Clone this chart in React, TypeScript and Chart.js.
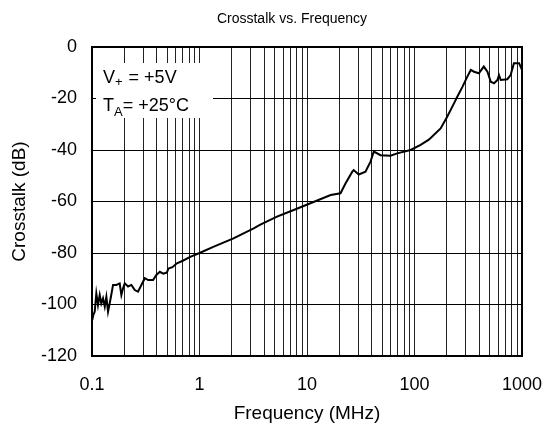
import React, { useEffect, useRef } from "react";
import { Chart, registerables } from "chart.js";

Chart.register(...registerables);

const TITLE = "Crosstalk vs. Frequency";
const X_TITLE = "Frequency (MHz)";
const Y_TITLE = "Crosstalk (dB)";

const frequencyMHz = [
  0.1006, 0.103, 0.106, 0.1097, 0.1137, 0.118, 0.122, 0.1266, 0.1314, 0.136,
  0.141, 0.146, 0.151, 0.157, 0.1685, 0.181, 0.1876, 0.1945, 0.2017, 0.2166,
  0.2325, 0.25, 0.268, 0.288, 0.31, 0.333, 0.37, 0.397, 0.4276, 0.46, 0.497,
  0.514, 0.56, 0.616, 0.7, 0.819, 1.0, 1.343, 2.07, 3.19, 3.68, 5.26, 7.52,
  10.76, 16.6, 20.5, 22.8, 26.3, 27.2, 30.3, 35, 39, 41.8, 48.3, 59.8, 69, 92,
  114, 136, 175, 202, 233, 250, 280, 310, 334, 358, 397, 441, 477, 512, 550,
  591, 611, 634, 730, 784, 841, 940, 1000,
];

const crosstalkDb = [
  -106, -104, -102.8, -95.7, -100.2, -96.3, -99.6, -97.6, -100.8, -97,
  -102.8, -99.6, -96.3, -92.4, -92.4, -91.8, -96.3, -93.7, -91.8, -93,
  -92.4, -94.4, -95, -92.4, -89.8, -90.5, -90.5, -88.5, -87.3, -88, -87.6,
  -86, -85.5, -84, -83, -81.5, -80, -77.6, -74.3, -70.4, -69, -65.9, -63.3,
  -60.7, -57.5, -56.8, -53, -48.5, -47.8, -49.5, -48.4, -44.5, -40.6, -42,
  -42.2, -41.3, -40, -38, -36, -31.6, -27, -21.9, -19.3, -15.4, -11.5, -8.9,
  -9.6, -10.2, -7.6, -9.6, -13.5, -14.1, -12.8, -10.9, -12.8, -12.5, -10.9,
  -6.3, -6.3, -8.9,
];

const xTickValues = [
  0.1, 0.2, 0.3, 0.4, 0.5, 0.6, 0.7, 0.8, 0.9,
  1, 2, 3, 4, 5, 6, 7, 8, 9,
  10, 20, 30, 40, 50, 60, 70, 80, 90,
  100, 200, 300, 400, 500, 600, 700, 800, 900, 1000,
];
const xTickLabels: Record<string, string> = {
  "0.1": "0.1",
  "1": "1",
  "10": "10",
  "100": "100",
  "1000": "1000",
};
const yTickValues = [-120, -100, -80, -60, -40, -20, 0];

const FONT = "'Liberation Sans', Arial, sans-serif";

const overlayPlugin = {
  id: "overlay",
  beforeDatasetsDraw(chart: any) {
    const { ctx, chartArea } = chart;
    ctx.save();
    ctx.fillStyle = "#fff";
    ctx.fillRect(chartArea.left + 4, chartArea.top + 16, 117, 55);
    ctx.fillStyle = "#000";
    ctx.textBaseline = "alphabetic";
    ctx.textAlign = "left";
    const x0 = chartArea.left + 11;
    const big = `18px ${FONT}`;
    const small = `13px ${FONT}`;
    let y = chartArea.top + 36;
    let x = x0;
    ctx.font = big;
    ctx.fillText("V", x, y);
    x += ctx.measureText("V").width;
    ctx.font = small;
    ctx.fillText("+", x, y + 3);
    x += ctx.measureText("+").width + 1;
    ctx.font = big;
    ctx.fillText(" = +5V", x, y);
    y = chartArea.top + 64;
    x = x0;
    ctx.fillText("T", x, y);
    x += ctx.measureText("T").width;
    ctx.font = small;
    ctx.fillText("A", x, y + 5);
    x += ctx.measureText("A").width;
    ctx.font = big;
    ctx.fillText("= +25°C", x, y);
    ctx.restore();
  },
  afterDraw(chart: any) {
    const { ctx, chartArea } = chart;
    ctx.save();
    ctx.strokeStyle = "#000";
    ctx.lineWidth = 2;
    ctx.strokeRect(
      chartArea.left,
      chartArea.top,
      chartArea.right - chartArea.left,
      chartArea.bottom - chartArea.top
    );
    ctx.fillStyle = "#000";
    ctx.font = `14px ${FONT}`;
    ctx.textAlign = "center";
    ctx.textBaseline = "middle";
    ctx.fillText(TITLE, 292, 19);
    ctx.restore();
  },
};

export default function App() {
  const ref = useRef<HTMLCanvasElement>(null);
  useEffect(() => {
    if (!ref.current) return;
    const data = frequencyMHz.map((f, i) => ({ x: f, y: crosstalkDb[i] }));
    const chart = new Chart(ref.current, {
      type: "line",
      data: {
        datasets: [
          {
            data,
            borderColor: "#000",
            borderWidth: 2,
            pointRadius: 0,
            tension: 0,
            fill: false,
          },
        ],
      },
      options: {
        animation: false,
        responsive: false,
        layout: { padding: { left: 0, right: 25, top: 47, bottom: 0 } },
        plugins: {
          legend: { display: false },
          title: { display: false },
          tooltip: { enabled: false },
        },
        scales: {
          x: {
            type: "logarithmic",
            min: 0.1,
            max: 1000,
            afterBuildTicks(scale: any) {
              scale.ticks = xTickValues.map((v) => ({ value: v }));
            },
            afterFit(scale: any) {
              scale.height = 76;
              scale.paddingLeft = 0;
              scale.paddingRight = 0;
            },
            ticks: {
              autoSkip: false,
              maxRotation: 0,
              padding: 18,
              color: "#000",
              font: { family: FONT, size: 18 },
              callback: (v: any) => xTickLabels[String(v)] ?? "",
            },
            grid: { color: "#222", lineWidth: 1, drawTicks: false },
            border: { display: false },
            title: {
              display: true,
              text: X_TITLE,
              color: "#000",
              font: { family: FONT, size: 19 },
              padding: { top: 0, bottom: 7 },
            },
          },
          y: {
            type: "linear",
            min: -120,
            max: 0,
            afterBuildTicks(scale: any) {
              scale.ticks = yTickValues.map((v) => ({ value: v }));
            },
            afterFit(scale: any) {
              scale.width = 92;
            },
            ticks: {
              padding: 15,
              color: "#000",
              font: { family: FONT, size: 18 },
            },
            grid: { color: "#000", lineWidth: 1, drawTicks: false },
            border: { display: false },
            title: {
              display: true,
              text: Y_TITLE,
              color: "#000",
              font: { family: FONT, size: 19 },
              padding: { top: 8, bottom: 0 },
            },
          },
        },
      },
      plugins: [overlayPlugin],
    });
    return () => chart.destroy();
  }, []);
  return (
    <div style={{ position: "absolute", left: 0, top: 0, width: 547, height: 432, background: "#fff" }}>
      <canvas ref={ref} width={547} height={432} style={{ display: "block" }} />
    </div>
  );
}
